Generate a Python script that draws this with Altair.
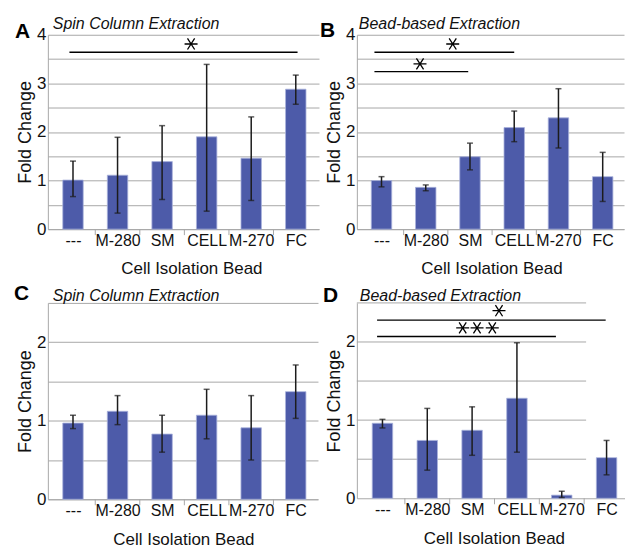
import json
import altair as alt
import pandas as pd

categories = ["---", "M-280", "SM", "CELL", "M-270", "FC"]

# Panel A: Spin Column Extraction (top)
a_mean = [1.01, 1.11, 1.39, 1.90, 1.46, 2.88]
a_low = [0.67, 0.33, 0.61, 0.37, 0.59, 2.57]
a_high = [1.40, 1.89, 2.13, 3.39, 2.31, 3.17]

# Panel B: Bead-based Extraction (top)
b_mean = [1.00, 0.86, 1.49, 2.09, 2.29, 1.08]
b_low = [0.87, 0.79, 1.22, 1.80, 1.67, 0.57]
b_high = [1.08, 0.91, 1.77, 2.43, 2.89, 1.58]

# Panel C: Spin Column Extraction (bottom)
c_mean = [0.97, 1.12, 0.83, 1.07, 0.91, 1.37]
c_low = [0.90, 0.95, 0.60, 0.77, 0.50, 1.03]
c_high = [1.07, 1.32, 1.07, 1.40, 1.32, 1.71]

# Panel D: Bead-based Extraction (bottom)
d_mean = [0.96, 0.74, 0.87, 1.28, 0.04, 0.52]
d_low = [0.90, 0.36, 0.55, 0.59, 0.01, 0.30]
d_high = [1.01, 1.15, 1.17, 1.99, 0.09, 0.74]

# significance brackets (category-index units) and stars
a_sig_from, a_sig_to, a_sig_y = [-0.08], [5.04], [3.64]
a_star_x, a_star_y = [2.65], [3.81]
b_sig_from, b_sig_to, b_sig_y = [-0.16, -0.16], [3.0, 1.96], [3.64, 3.24]
b_star_x, b_star_y = [1.61, 0.87], [3.81, 3.40]
c_sig_from, c_sig_to, c_sig_y = [], [], []
c_star_x, c_star_y = [], []
d_sig_from, d_sig_to, d_sig_y = [-0.12, -0.12], [4.98, 3.87], [2.28, 2.07]
d_star_x, d_star_y = [2.60, 1.79, 2.11, 2.45], [2.40, 2.18, 2.18, 2.18]

top_ticks = [0, 0.5, 1, 1.5, 2, 2.5, 3, 3.5, 4]
bottom_ticks = [0, 0.5, 1, 1.5, 2, 2.5]
separators = [0.5, 1.5, 2.5, 3.5, 4.5]

BAR = "#4d5ba9"
GRID = "#a8a8a8"
INK = "#111111"
STAR = "M-1,0L1,0M-0.55,-0.85L0.55,0.85M-0.55,0.85L0.55,-0.85"
label_expr = json.dumps(categories) + "[datum.value]"


def panel(means, lows, highs, yticks, W, H, xdom, sig_from, sig_to, sig_y,
          star_x, star_y, letter, subtitle, letter_xy, sub_xy, ytitle_x,
          xtitle_x, grid_end=None):
    ymax = yticks[-1]
    df = pd.DataFrame({"idx": list(range(len(categories))), "mean": means,
                       "lo": lows, "hi": highs})
    xs = alt.Scale(domain=xdom, nice=False, zero=False)
    ys = alt.Scale(domain=[0, ymax], nice=False, zero=True)
    x_axis = alt.Axis(values=list(range(len(categories))), labelExpr=label_expr,
                      ticks=False, grid=False, domainColor=GRID, domainWidth=1,
                      labelFontSize=16, labelPadding=3, labelColor=INK,
                      labelFlush=False, labelOverlap=False,
                      title="Cell Isolation Bead", titleFontSize=17,
                      titleFontWeight="normal", titleColor=INK,
                      titleX=xtitle_x, titleY=45, titleBaseline="alphabetic",
                      titleAlign="center")
    y_axis = alt.Axis(values=yticks,
                      labelExpr="datum.value % 1 == 0 ? format(datum.value, 'd') : ''",
                      ticks=False, grid=grid_end is None, gridColor=GRID,
                      gridWidth=1, domainColor=GRID, domainWidth=1,
                      labelFontSize=17, labelPadding=2, labelColor=INK,
                      labelOverlap=False,
                      title="Fold Change", titleFontSize=18,
                      titleFontWeight="normal", titleColor=INK,
                      titleX=ytitle_x, titleY=H / 2, titleAngle=270,
                      titleBaseline="alphabetic", titleAlign="center")

    def X(f):
        return alt.X(f, scale=xs, axis=x_axis, title="Cell Isolation Bead")

    def Y(f):
        return alt.Y(f, scale=ys, axis=y_axis, title="Fold Change")

    base = alt.Chart(df)
    layers = []
    if grid_end is not None:
        gdf = pd.DataFrame({"g": [t for t in yticks if t > 0]})
        layers.append(alt.Chart(gdf).mark_rule(color=GRID, strokeWidth=1).encode(
            y=Y("g:Q"), x=alt.value(0), x2=alt.value(grid_end)))
    bars = base.mark_bar(width=20.5, color=BAR, stroke="#aab2dc",
                         strokeWidth=0.8).encode(x=X("idx:Q"), y=Y("mean:Q"))
    layers.append(bars)
    sep = alt.Chart(pd.DataFrame({"s": separators})).mark_rule(
        color=GRID, strokeWidth=1).encode(
        x=X("s:Q"), y=alt.value(H), y2=alt.value(H + 6))
    layers.append(sep)
    err = base.mark_rule(color="#1c1c1c", strokeWidth=1.5).encode(
        x=X("idx:Q"), y=Y("lo:Q"), y2="hi:Q")
    cap_lo = base.mark_tick(orient="horizontal", size=6, thickness=1.5,
                            color="#1c1c1c").encode(x=X("idx:Q"), y=Y("lo:Q"))
    cap_hi = base.mark_tick(orient="horizontal", size=6, thickness=1.5,
                            color="#1c1c1c").encode(x=X("idx:Q"), y=Y("hi:Q"))
    layers += [err, cap_lo, cap_hi]
    if sig_from:
        sdf = pd.DataFrame({"a": sig_from, "b": sig_to, "y": sig_y})
        layers.append(alt.Chart(sdf).mark_rule(color="black", strokeWidth=1.3).encode(
            x=X("a:Q"), x2="b:Q", y=Y("y:Q")))
        stdf = pd.DataFrame({"sx": star_x, "sy": star_y})
        layers.append(alt.Chart(stdf).mark_point(
            shape=STAR, size=170, filled=False, stroke="black",
            strokeWidth=1.3, opacity=1).encode(x=X("sx:Q"), y=Y("sy:Q")))
    tdf = pd.DataFrame({"t": [letter], "s": [subtitle]})
    layers.append(alt.Chart(tdf).mark_text(
        align="left", baseline="alphabetic", fontSize=21, fontWeight="bold",
        color="black").encode(text="t:N", x=alt.value(letter_xy[0]),
                              y=alt.value(letter_xy[1])))
    layers.append(alt.Chart(tdf).mark_text(
        align="left", baseline="alphabetic", fontSize=16, fontStyle="italic",
        color=INK).encode(text="s:N", x=alt.value(sub_xy[0]),
                          y=alt.value(sub_xy[1])))
    return alt.layer(*layers).properties(width=W, height=H)


pa = panel(a_mean, a_low, a_high, top_ticks, 272, 195, [-0.4526, 5.409],
           a_sig_from, a_sig_to, a_sig_y, a_star_x, a_star_y,
           "A", "Spin Column Extraction", (-33, 3), (5, -6), -17, 144)
pb = panel(b_mean, b_low, b_high, top_ticks, 268, 195, [-0.4447, 5.369],
           b_sig_from, b_sig_to, b_sig_y, b_star_x, b_star_y,
           "B", "Bead-based Extraction", (-37, 2), (2, -6), -17, 135)
pc = panel(c_mean, c_low, c_high, bottom_ticks, 271, 197, [-0.4526, 5.388],
           c_sig_from, c_sig_to, c_sig_y, c_star_x, c_star_y,
           "C", "Spin Column Extraction", (-34, -3), (5, -2), -17, 136)
pd_ = panel(d_mean, d_low, d_high, bottom_ticks, 269, 196, [-0.460, 5.300],
            d_sig_from, d_sig_to, d_sig_y, d_star_x, d_star_y,
            "D", "Bead-based Extraction", (-34, -1), (3, -2), -17, 137.5,
            grid_end=230)

chart = alt.concat(pa, pb, pc, pd_, columns=2, spacing={"row": 74, "column": 38},
                   bounds="flush", align="none").properties(
    padding={"left": 14, "top": 15, "right": 0, "bottom": 0},
    background="white",
).configure(font="Liberation Sans").configure_view(stroke=None)

chart.save("out.html", embed_options={"renderer": "svg", "actions": False})
